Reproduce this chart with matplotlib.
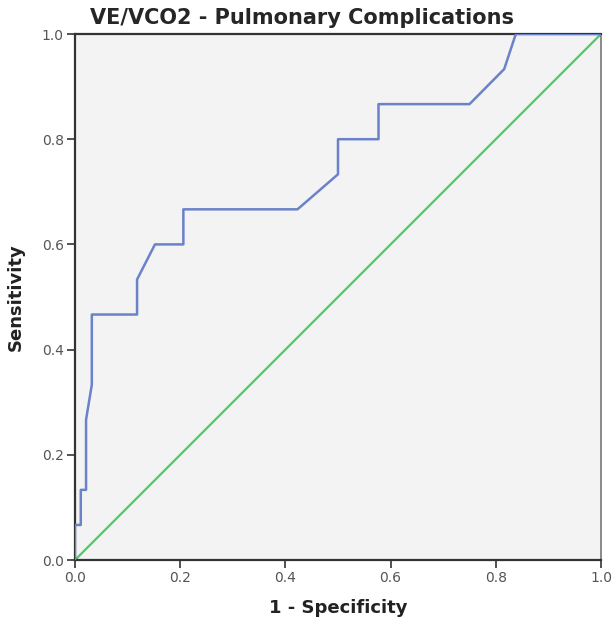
import matplotlib
matplotlib.use("Agg")
import matplotlib.pyplot as plt

# ROC curve coordinates (1 - specificity, sensitivity)
fpr = [0.0, 0.0, 0.011, 0.011, 0.021, 0.021, 0.032, 0.032, 0.118, 0.118,
       0.152, 0.206, 0.206, 0.423, 0.500, 0.500, 0.577, 0.577, 0.750,
       0.816, 0.838, 1.0]
tpr = [0.0, 1/15, 1/15, 2/15, 2/15, 4/15, 5/15, 7/15, 7/15, 8/15,
       9/15, 9/15, 10/15, 10/15, 11/15, 12/15, 12/15, 13/15, 13/15,
       14/15, 1.0, 1.0]
ref_line = [0.0, 1.0]
ticks = [0.0, 0.2, 0.4, 0.6, 0.8, 1.0]
tick_labels = ["0.0", "0.2", "0.4", "0.6", "0.8", "1.0"]

fig = plt.figure(figsize=(6.16, 6.26), dpi=100)
ax = fig.add_axes([75/616, 66/626, 526/616, 526/626])
ax.set_facecolor("#f3f3f3")

ax.plot(ref_line, ref_line, color="#4fca62", lw=1.6, zorder=2)
ax.plot(fpr, tpr, color="#6a82c9", lw=1.8, zorder=3)

ax.set_xlim(0, 1)
ax.set_ylim(0, 1)
ax.set_xticks(ticks)
ax.set_yticks(ticks)
ax.set_xticklabels(tick_labels)
ax.set_yticklabels(tick_labels)
ax.tick_params(direction="out", length=6, width=1.2, color="#333333",
               labelsize=10, labelcolor="#555555", pad=2)

for side in ["left", "bottom", "top"]:
    ax.spines[side].set_color("#333333")
    ax.spines[side].set_linewidth(1.6)
ax.spines["right"].set_color("#777777")
ax.spines["right"].set_linewidth(1.2)

ax.set_xlabel("1 - Specificity", fontsize=13, fontweight="bold",
              color="#222222", labelpad=10)
ax.set_ylabel("Sensitivity", fontsize=13, fontweight="bold",
              color="#222222", labelpad=12)

fig.text(0.49, 0.972, "VE/VCO2 - Pulmonary Complications", ha="center",
         va="center", fontsize=15, fontweight="bold", color="#262626")

fig.savefig("out.png", dpi=100)
